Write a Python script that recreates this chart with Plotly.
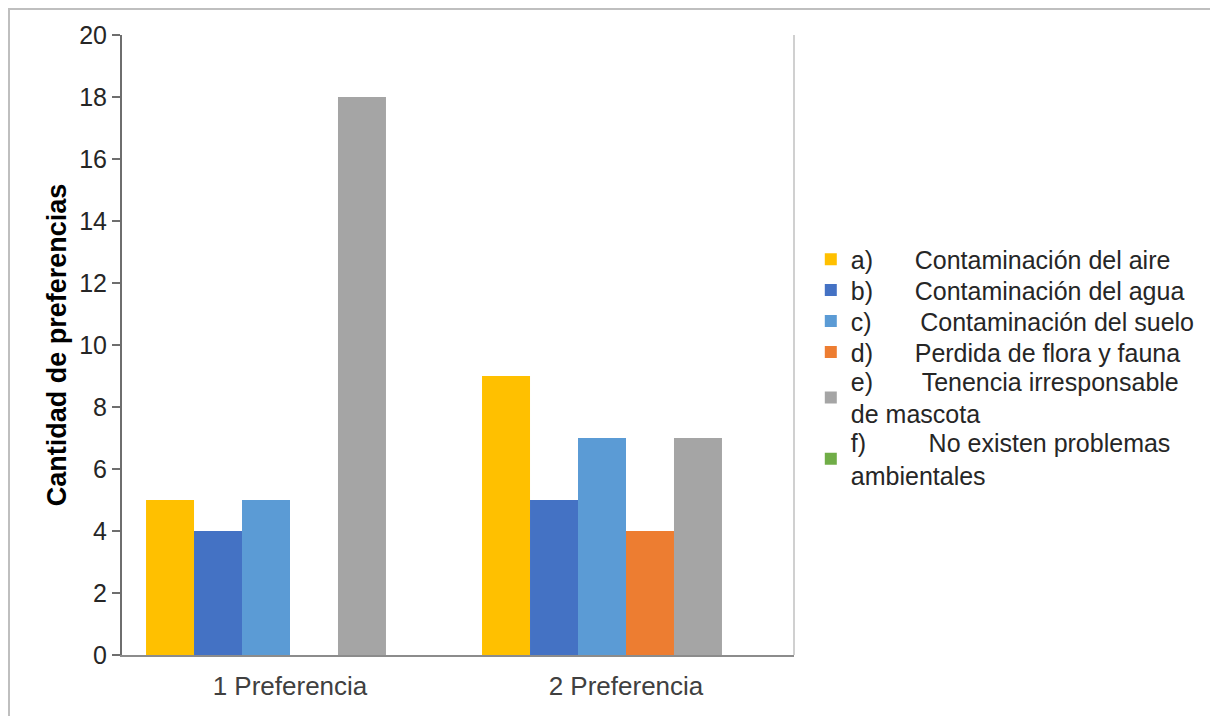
import plotly.graph_objects as go

categories = ["1 Preferencia", "2 Preferencia"]
series_names = [
    "a)\u00a0\u00a0\u00a0\u00a0\u00a0\u00a0Contaminación del aire",
    "b)\u00a0\u00a0\u00a0\u00a0\u00a0\u00a0Contaminación del agua",
    "c)\u00a0\u00a0\u00a0\u00a0\u00a0\u00a0\u00a0Contaminación del suelo",
    "d)\u00a0\u00a0\u00a0\u00a0\u00a0\u00a0Perdida de flora y fauna",
    "e)\u00a0\u00a0\u00a0\u00a0\u00a0\u00a0\u00a0Tenencia irresponsable<br>de mascota",
    "f)\u00a0\u00a0\u00a0\u00a0\u00a0\u00a0\u00a0\u00a0\u00a0No existen problemas<br>ambientales",
]
values_a = [5, 9]
values_b = [4, 5]
values_c = [5, 7]
values_d = [0, 4]
values_e = [18, 7]
values_f = [0, 0]
series_values = [values_a, values_b, values_c, values_d, values_e, values_f]
colors = ["#FFC000", "#4472C4", "#5B9BD5", "#ED7D31", "#A5A5A5", "#70AD47"]

# legend item vertical centres (paper fraction of plot height)
legend_y = [0.638, 0.5885, 0.5385, 0.4885, 0.4155, 0.3165]

legend_ids = ["legend", "legend2", "legend3", "legend4", "legend5", "legend6"]

fig = go.Figure()
for name, vals, col, lid in zip(series_names, series_values, colors, legend_ids):
    fig.add_trace(go.Bar(x=categories, y=vals, name=name, legend=lid,
                         marker=dict(color=col, line=dict(width=0))))

font_family = "Liberation Sans, Arial, sans-serif"
legend_font = dict(size=25, color="#262626", family=font_family)
legend_layouts = {}
for lid, ly in zip(legend_ids, legend_y):
    legend_layouts[lid] = dict(
        x=1.025, xanchor="left", y=ly, yanchor="middle",
        font=legend_font, itemwidth=30, bgcolor="rgba(0,0,0,0)",
    )

fig.update_layout(
    width=1210, height=708,
    margin=dict(l=114, r=424, t=27, b=61, autoexpand=False),
    paper_bgcolor="white", plot_bgcolor="white",
    barmode="group", bargap=0.143, bargroupgap=0,
    font=dict(family=font_family, color="#262626"),
    showlegend=True,
    xaxis=dict(
        showline=True, linecolor="#8c8c8c", linewidth=2,
        ticks="", showgrid=False, zeroline=False,
        tickfont=dict(size=26, color="#404040"),
        ticklabelstandoff=7,
    ),
    yaxis=dict(
        range=[0, 20], dtick=2, tick0=0,
        showline=True, linecolor="#6e6e6e", linewidth=2,
        ticks="outside", ticklen=8, tickwidth=2, tickcolor="#6e6e6e",
        showgrid=False, zeroline=False,
        tickfont=dict(size=25, color="#262626"),
        title=dict(text="<b>Cantidad de preferencias</b>", font=dict(size=27, color="#000000"), standoff=5),
    ),
    shapes=[
        dict(type="line", xref="paper", yref="paper", x0=1, x1=1, y0=0, y1=1,
             line=dict(color="#d0d0d0", width=2)),
        dict(type="rect", xref="paper", yref="paper",
             x0=(1 - 114) / 672, x1=1.8, y0=(647 - 1) / 620, y1=-0.3,
             line=dict(color="#bfbfbf", width=2), fillcolor="rgba(0,0,0,0)", layer="below"),
    ],
    **legend_layouts,
)

fig.write_html("out.html")
